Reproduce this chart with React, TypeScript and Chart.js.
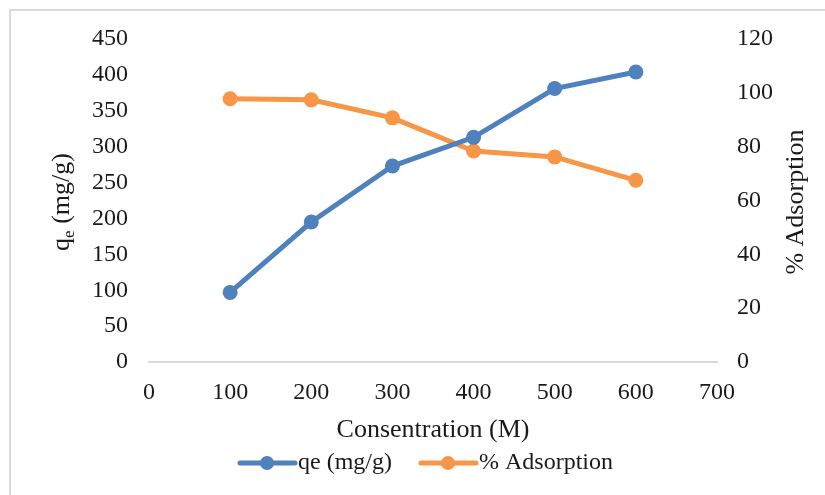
import React, { useEffect, useRef } from "react";
import { Chart, registerables } from "chart.js";

Chart.register(...registerables);

const concentrations = [100, 200, 300, 400, 500, 600];
const qeValues = [97, 195, 273, 313, 381, 404];
const adsorptionValues = [97.8, 97.4, 90.7, 78.4, 76.2, 67.5];
const seriesNames = ["qe (mg/g)", "% Adsorption"];
const xTitle = "Consentration (M)";
const rightTitle = "% Adsorption";

const BLUE = "#4f81bd";
const ORANGE = "#f79646";
const FONT = "'Liberation Serif', 'Times New Roman', serif";

const overlay = {
  id: "overlay",
  beforeDraw(chart: any) {
    const ctx = chart.ctx;
    ctx.save();
    ctx.strokeStyle = "#d9d9d9";
    ctx.lineWidth = 2;
    ctx.beginPath();
    ctx.moveTo(10, 495);
    ctx.lineTo(10, 10);
    ctx.lineTo(825, 10);
    ctx.stroke();
    ctx.restore();
  },
  afterDraw(chart: any) {
    const ctx = chart.ctx;
    const area = chart.chartArea;
    ctx.save();
    ctx.fillStyle = "#1a1a1a";
    // x title
    ctx.font = `26px ${FONT}`;
    ctx.textAlign = "center";
    ctx.textBaseline = "middle";
    ctx.fillText(xTitle, (area.left + area.right) / 2, 430);

    // left title with subscript
    ctx.save();
    ctx.translate(61, 202);
    ctx.rotate(-Math.PI / 2);
    const big = `26px ${FONT}`;
    const small = `17px ${FONT}`;
    ctx.font = big;
    const wq = ctx.measureText("q").width;
    const wRest = ctx.measureText(" (mg/g)").width;
    ctx.font = small;
    const we = ctx.measureText("e").width;
    const total = wq + we + wRest;
    const x0 = -total / 2;
    ctx.textAlign = "left";
    ctx.textBaseline = "alphabetic";
    ctx.font = big;
    ctx.fillText("q", x0, 8);
    ctx.font = small;
    ctx.fillText("e", x0 + wq, 13);
    ctx.font = big;
    ctx.fillText(" (mg/g)", x0 + wq + we, 8);
    ctx.restore();

    // right title
    ctx.save();
    ctx.translate(796, 202);
    ctx.rotate(-Math.PI / 2);
    ctx.font = `26px ${FONT}`;
    ctx.textAlign = "center";
    ctx.textBaseline = "middle";
    ctx.fillText(rightTitle, 0, 0);
    ctx.restore();

    // legend
    const items = [
      { name: seriesNames[0], color: BLUE, x: 240 },
      { name: seriesNames[1], color: ORANGE, x: 421 },
    ];
    const ly = 463;
    items.forEach((it) => {
      ctx.strokeStyle = it.color;
      ctx.lineWidth = 5;
      ctx.lineCap = "round";
      ctx.beginPath();
      ctx.moveTo(it.x, ly);
      ctx.lineTo(it.x + 55, ly);
      ctx.stroke();
      ctx.fillStyle = it.color;
      ctx.beginPath();
      ctx.arc(it.x + 27, ly, 7, 0, Math.PI * 2);
      ctx.fill();
      ctx.fillStyle = "#1a1a1a";
      ctx.font = `24px ${FONT}`;
      ctx.textAlign = "left";
      ctx.textBaseline = "middle";
      ctx.fillText(it.name, it.x + 58, ly);
    });
    ctx.restore();
  },
};

export default function App() {
  const ref = useRef<HTMLCanvasElement | null>(null);
  useEffect(() => {
    if (!ref.current) return;
    const tickFont = { family: FONT, size: 24 };
    const chart = new Chart(ref.current, {
      type: "line",
      data: {
        datasets: [
          {
            label: seriesNames[0],
            data: concentrations.map((c, i) => ({ x: c, y: qeValues[i] })),
            borderColor: BLUE,
            backgroundColor: BLUE,
            borderWidth: 5,
            pointRadius: 7.5,
            pointHoverRadius: 7.5,
            pointBorderWidth: 0,
            yAxisID: "y",
          },
          {
            label: seriesNames[1],
            data: concentrations.map((c, i) => ({ x: c, y: adsorptionValues[i] })),
            borderColor: ORANGE,
            backgroundColor: ORANGE,
            borderWidth: 5,
            pointRadius: 7.5,
            pointHoverRadius: 7.5,
            pointBorderWidth: 0,
            yAxisID: "y1",
          },
        ],
      },
      options: {
        animation: false,
        responsive: false,
        maintainAspectRatio: false,
        layout: { padding: { top: 39, left: 0, right: 0, bottom: 0 } },
        plugins: { legend: { display: false }, tooltip: { enabled: false } },
        scales: {
          x: {
            type: "linear",
            min: 0,
            max: 700,
            ticks: { stepSize: 100, font: tickFont, color: "#1a1a1a", padding: 16 },
            grid: { display: false, drawTicks: false, tickLength: 0 },
            border: { display: true, color: "#d9d9d9", width: 2 },
            afterFit: (s: any) => {
              s.height = 133;
            },
          },
          y: {
            type: "linear",
            position: "left",
            min: 0,
            max: 450,
            ticks: { stepSize: 50, font: tickFont, color: "#1a1a1a", padding: 21 },
            grid: { display: false, drawTicks: false, tickLength: 0 },
            border: { display: false },
            afterFit: (s: any) => {
              s.width = 149;
            },
          },
          y1: {
            type: "linear",
            position: "right",
            min: 0,
            max: 120,
            ticks: { stepSize: 20, font: tickFont, color: "#1a1a1a", padding: 20 },
            grid: { display: false, drawTicks: false, tickLength: 0 },
            border: { display: false },
            afterFit: (s: any) => {
              s.width = 108;
            },
          },
        },
      },
      plugins: [overlay],
    } as any);
    return () => chart.destroy();
  }, []);
  return (
    <div style={{ position: "fixed", left: 0, top: 0, width: 825, height: 495, background: "#fff" }}>
      <canvas ref={ref} width={825} height={495} style={{ width: 825, height: 495, display: "block" }} />
    </div>
  );
}
